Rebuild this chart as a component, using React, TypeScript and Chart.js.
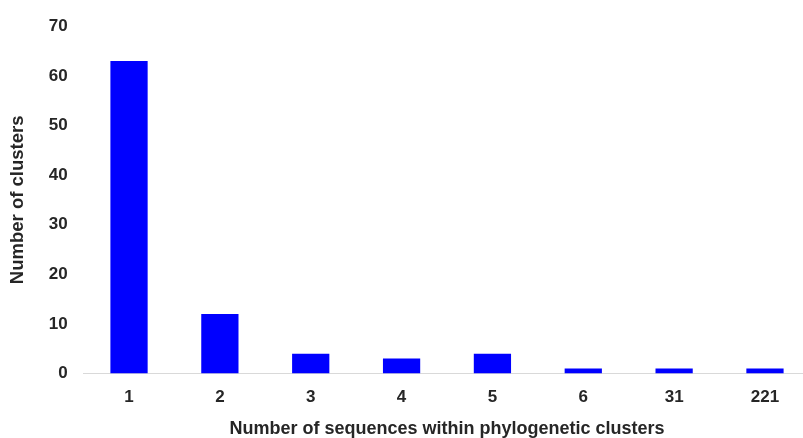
import React, { useEffect, useRef } from "react";
import { Chart, registerables } from "chart.js";

Chart.register(...registerables);

const categories = ["1", "2", "3", "4", "5", "6", "31", "221"];
const clusterCounts = [63, 12, 4, 3, 4, 1, 1, 1];
const yMin = 0;
const yMax = 70;
const yStep = 10;
const xTitle = "Number of sequences within phylogenetic clusters";
const yTitle = "Number of clusters";

export default function App() {
  const ref = useRef<HTMLCanvasElement | null>(null);
  useEffect(() => {
    if (!ref.current) return;
    const family = "'Liberation Sans', Arial, sans-serif";
    const font = { family, weight: "bold" as const, size: 17 };
    const chart = new Chart(ref.current, {
      type: "bar",
      data: {
        labels: categories,
        datasets: [
          {
            data: clusterCounts,
            backgroundColor: "#0000FF",
            borderWidth: 0,
            barPercentage: 0.41,
            categoryPercentage: 1,
          },
        ],
      },
      options: {
        responsive: false,
        animation: false,
        layout: { padding: { top: 20.7, right: 0.6, bottom: 0, left: 0 } },
        plugins: { legend: { display: false }, tooltip: { enabled: false } },
        scales: {
          x: {
            grid: { display: false, drawTicks: false },
            border: { display: true, color: "#d9d9d9", width: 1 },
            ticks: { color: "#262626", font, padding: 14 },
            title: {
              display: true,
              text: xTitle,
              color: "#262626",
              font: { family, weight: "bold" as const, size: 18 },
              padding: { top: 0, bottom: -2 },
            },
            afterFit: (s: any) => {
              s.height = 64.5;
            },
          },
          y: {
            min: yMin,
            max: yMax,
            grid: { display: false, drawTicks: false },
            border: { display: false },
            ticks: { stepSize: yStep, color: "#262626", font, padding: 16 },
            title: {
              display: true,
              text: yTitle,
              color: "#262626",
              font: { family, weight: "bold" as const, size: 18.5 },
              padding: { top: 7, bottom: 0 },
            },
            afterFit: (s: any) => {
              s.width = 83.6;
            },
          },
        },
      },
    });
    return () => chart.destroy();
  }, []);
  return (
    <div style={{ position: "fixed", left: 0, top: 0, width: 811, height: 438, background: "#fff" }}>
      <canvas ref={ref} width={811} height={438} style={{ width: 811, height: 438 }} />
    </div>
  );
}
